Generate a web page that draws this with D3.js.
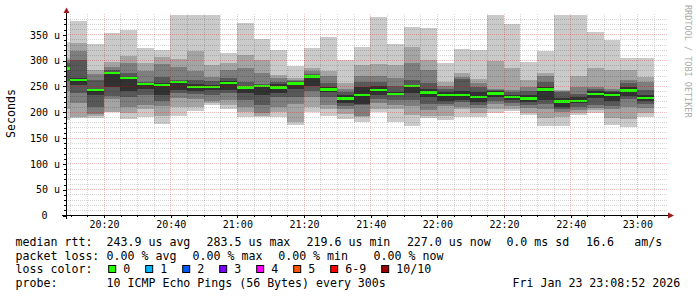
<!DOCTYPE html>
<html>
<head>
<meta charset="utf-8">
<script src="https://cdn.jsdelivr.net/npm/d3@7"></script>
<style>
  body { margin: 0; background: #fff; }
  text { font-family: "DejaVu Sans Mono", monospace; white-space: pre; }
</style>
</head>
<body>
<div id="chart"></div>
<script>
const ancho = 697;
const alto = 297;
const plot = { izq: 66.4, der: 666.4, sup: 15, inf: 215 };

// ---- datos ----
const dia = "2026-01-23 ";
const inicioGrafico = "20:08:52";
const finGrafico = "23:08:52";
const pasoMin = 5;

// inicio de cada intervalo de 5 min
const slots = ["20:05", "20:10", "20:15", "20:20", "20:25", "20:30", "20:35", "20:40", "20:45",
  "20:50", "20:55", "21:00", "21:05", "21:10", "21:15", "21:20", "21:25", "21:30", "21:35",
  "21:40", "21:45", "21:50", "21:55", "22:00", "22:05", "22:10", "22:15", "22:20", "22:25",
  "22:30", "22:35", "22:40", "22:45", "22:50", "22:55", "23:00"];

// 10 pings ordenados por intervalo (us)
const ping1 = [184, 188, 187, 199, 186, 190, 176, 192, 201, 213, 205, 189, 189, 189, 174, 200, 192, 185, 181, 200, 181, 173, 187, 184, 190, 189, 198, 201, 193, 172, 172, 193, 198, 174, 170, 190];
const ping2 = [205, 190, 192, 200, 197, 205, 192, 210, 210, 216, 213, 200, 191, 200, 180, 209, 205, 196, 190, 205, 205, 194, 192, 192, 205, 198, 205, 206, 198, 187, 190, 197, 203, 187, 185, 198];
const ping3 = [240, 217, 195, 224, 209, 213, 211, 226, 224, 221, 223, 210, 198, 210, 215, 229, 213, 205, 192, 217, 213, 212, 204, 212, 210, 208, 215, 212, 208, 205, 200, 203, 208, 205, 210, 208];
const ping4 = [260, 236, 210, 230, 228, 232, 221, 237, 234, 232, 236, 223, 213, 228, 228, 240, 228, 211, 213, 225, 222, 223, 215, 215, 218, 214, 220, 217, 213, 215, 206, 210, 213, 212, 225, 215];
const ping5 = [280, 252, 232, 247, 241, 245, 232, 243, 240, 242, 242, 236, 232, 237, 245, 249, 238, 216, 215, 232, 232, 236, 228, 220, 223, 219, 228, 223, 218, 222, 210, 216, 227, 221, 230, 220];
const ping6 = [287, 265, 244, 277, 268, 256, 255, 260, 254, 251, 260, 250, 252, 254, 257, 271, 247, 232, 247, 250, 238, 252, 244, 238, 240, 238, 240, 232, 232, 247, 226, 228, 240, 238, 248, 232];
const ping7 = [295, 300, 261, 281, 275, 258, 268, 262, 262, 260, 266, 258, 254, 258, 259, 273, 255, 238, 258, 258, 250, 262, 255, 244, 263, 248, 242, 238, 240, 258, 238, 235, 244, 241, 255, 242];
const ping8 = [300, 318, 273, 287, 294, 278, 292, 287, 279, 268, 280, 285, 275, 265, 262, 278, 270, 245, 269, 269, 265, 294, 280, 250, 268, 255, 244, 242, 248, 270, 240, 247, 247, 244, 262, 258];
const ping9 = [305, 333, 281, 297, 308, 294, 307, 303, 318, 290, 294, 310, 300, 271, 265, 284, 279, 256, 290, 292, 290, 326, 300, 258, 276, 263, 299, 284, 262, 275, 242, 269, 284, 280, 280, 268];
const ping10 = [335, 376, 331, 353, 358, 324, 320, 395, 395, 395, 314, 372, 340, 320, 289, 323, 344, 300, 326, 384, 332, 365, 362, 294, 321, 320, 395, 370, 297, 318, 395, 395, 354, 339, 305, 304];
const mediana = [283.5, 262, 242, 274.5, 265, 254, 252, 258, 248.5, 248.5, 256, 247, 250, 247, 255, 268, 243, 226, 232, 242, 234, 250, 237, 232, 232, 229, 235.6, 228, 226, 243, 219.5, 221, 234, 232, 241, 227];

const yTickValues = [0, 50, 100, 150, 200, 250, 300, 350];
const yTickLabels = ["0", "50 u", "100 u", "150 u", "200 u", "250 u", "300 u", "350 u"];
const yMax = 387.4;

const rttStats = ["243.9 us avg", "283.5 us max", "219.6 us min", "227.0 us now", "0.0 ms sd", "16.6", "am/s"];
const lossStats = ["0.00 % avg", "0.00 % max", "0.00 % min", "0.00 % now"];
const lossLabels = ["0", "1", "2", "3", "4", "5", "6-9", "10/10"];
const lossColors = ["#26ff00", "#00b8ff", "#0059ff", "#7e00ff", "#ff00ff", "#ff5500", "#ff0000", "#a10000"];
const probeText = "10 ICMP Echo Pings (56 Bytes) every 300s";
const fechaText = "Fri Jan 23 23:08:52 2026";

// ------------------------------------------------
const parseT = d3.timeParse("%Y-%m-%d %H:%M:%S");
const tSlot = (s) => parseT(dia + s + ":00");
const inicio = parseT(dia + inicioGrafico);
const fin = parseT(dia + finGrafico);

const svg = d3.select("#chart").append("svg")
  .attr("width", ancho).attr("height", alto);
svg.append("rect").attr("width", ancho).attr("height", alto).attr("fill", "#fff");

const x = d3.scaleTime().domain([inicio, fin]).range([plot.izq, plot.der]);
const y = d3.scaleLinear().domain([0, yMax]).range([plot.inf, plot.sup]);

svg.append("clipPath").attr("id", "recorte").append("rect")
  .attr("x", plot.izq).attr("y", plot.sup)
  .attr("width", plot.der - plot.izq).attr("height", plot.inf - plot.sup);

const grupoHumo = svg.append("g").attr("clip-path", "url(#recorte)")
  .attr("shape-rendering", "crispEdges");

// humo: bandas anidadas entre ping k y ping 11-k
const pings = [ping1, ping2, ping3, ping4, ping5, ping6, ping7, ping8, ping9, ping10];
const grises = ["#cacaca", "#a4a4a4", "#7e7e7e", "#585858", "#323232"];
const x0 = (i) => x(tSlot(slots[i]));
const x1 = (i) => x(d3.timeMinute.offset(tSlot(slots[i]), pasoMin));

grises.forEach((color, k) => {
  grupoHumo.append("g").selectAll("rect").data(slots).enter().append("rect")
    .attr("x", (d, i) => x0(i))
    .attr("width", (d, i) => x1(i) - x0(i))
    .attr("y", (d, i) => y(pings[9 - k][i]))
    .attr("height", (d, i) => y(pings[k][i]) - y(pings[9 - k][i]))
    .attr("fill", color);
});

// mediana (color de perdida 0)
grupoHumo.append("g").selectAll("rect").data(mediana).enter().append("rect")
  .attr("x", (d, i) => x0(i))
  .attr("width", (d, i) => x1(i) - x0(i))
  .attr("y", (d) => y(d) - 1.2)
  .attr("height", 2.4)
  .attr("fill", lossColors[0]);

// rejilla
const grupoGrid = svg.append("g").attr("shape-rendering", "crispEdges")
  .attr("stroke-dasharray", "1,1");
const minorT = d3.timeMinute.every(5).range(inicio, fin).filter((d) => d.getMinutes() % 20 !== 0);
const majorT = d3.timeMinute.every(20).range(inicio, fin);
const minorY = d3.range(10, yMax, 10).filter((v) => v % 50 !== 0);
const majorY = d3.range(50, yMax, 50);

const px = (v) => Math.round(v) + 0.5;
const colMin = "rgba(0,0,0,0.16)";
const colMaj = "rgba(210,0,0,0.26)";

grupoGrid.selectAll(".vmin").data(minorT).enter().append("line")
  .attr("x1", (d) => px(x(d))).attr("x2", (d) => px(x(d)))
  .attr("y1", plot.inf).attr("y2", plot.sup - 2)
  .attr("stroke", colMin);
grupoGrid.selectAll(".hmin").data(minorY).enter().append("line")
  .attr("x1", plot.izq).attr("x2", plot.der + 2)
  .attr("y1", (d) => px(y(d))).attr("y2", (d) => px(y(d)))
  .attr("stroke", colMin);
grupoGrid.selectAll(".vmaj").data(majorT).enter().append("line")
  .attr("x1", (d) => px(x(d))).attr("x2", (d) => px(x(d)))
  .attr("y1", plot.inf).attr("y2", plot.sup - 2)
  .attr("stroke", colMaj);
grupoGrid.selectAll(".hmaj").data(majorY).enter().append("line")
  .attr("x1", plot.izq).attr("x2", plot.der + 2)
  .attr("y1", (d) => px(y(d))).attr("y2", (d) => px(y(d)))
  .attr("stroke", colMaj);

// ejes
const ejeX = d3.axisBottom(x).tickValues(majorT)
  .tickFormat(d3.timeFormat("%H:%M")).tickSize(3).tickPadding(3.2);
const ejeXmin = d3.axisBottom(x).tickValues(minorT).tickFormat("").tickSize(2);
const ejeY = d3.axisLeft(y).tickValues(yTickValues)
  .tickFormat((d, i) => yTickLabels[i]).tickSize(3).tickPadding(3);
const ejeYmin = d3.axisLeft(y).tickValues(minorY).tickFormat("").tickSize(2);

const estiloEje = (g) => {
  g.select(".domain").remove();
  g.selectAll(".tick line").attr("stroke", "#000").attr("shape-rendering", "crispEdges");
  g.selectAll(".tick text").attr("font-family", "DejaVu Sans Mono").attr("font-size", 10).attr("fill", "#000");
};

svg.append("g").attr("transform", "translate(0.5," + plot.inf + ")").call(ejeXmin).call(estiloEje);
svg.append("g").attr("transform", "translate(0.5," + plot.inf + ")").call(ejeX).call(estiloEje);
svg.append("g").attr("transform", "translate(66," + 0.5 + ")").call(ejeYmin).call(estiloEje);
const grupoY = svg.append("g").attr("transform", "translate(66," + 0.5 + ")").call(ejeY).call(estiloEje);
grupoY.selectAll(".tick text").attr("dx", (d, i) => yTickLabels[i].indexOf(" ") < 0 ? "-12.5" : "0");

// lineas de eje con flechas
svg.append("line").attr("x1", 62).attr("x2", 669).attr("y1", 215.5).attr("y2", 215.5)
  .attr("stroke", "#000");
svg.append("line").attr("x1", 66.5).attr("x2", 66.5).attr("y1", 219).attr("y2", 12)
  .attr("stroke", "#000");
svg.append("path").attr("d", "M668,212.5L674,215.5L668,218.5Z").attr("fill", "#9e1a1a");
svg.append("path").attr("d", "M63.5,13L66.5,7.5L69.5,13Z").attr("fill", "#9e1a1a");

// titulo eje y
svg.append("text").attr("transform", "translate(14.5,113.5) rotate(-90)")
  .attr("text-anchor", "middle").attr("font-size", 11.6).text("Seconds");

// marca de agua
svg.append("text").attr("transform", "translate(685,5) rotate(90)")
  .attr("font-size", 8.5).attr("fill", "#aaaaaa").text("RRDTOOL / TOBI OETIKER");

// leyenda
const fs = 11.6;
const lineas = [245.8, 259.5, 273.2, 286.9];
const leyenda = svg.append("g").attr("font-size", fs).attr("fill", "#000");

leyenda.append("text").attr("x", 15.6).attr("y", lineas[0]).text("median rtt:");
const xRtt = [106.6, 206.6, 306.6, 406.9, 506.4, 586.1, 634.3];
rttStats.forEach((s, i) => {
  leyenda.append("text").attr("x", xRtt[i]).attr("y", lineas[0]).text(s);
});

leyenda.append("text").attr("x", 15.6).attr("y", lineas[1]).text("packet loss:");
const xLoss = [106.6, 192.6, 278.2, 373.6];
lossStats.forEach((s, i) => {
  leyenda.append("text").attr("x", xLoss[i]).attr("y", lineas[1]).text(s);
});

leyenda.append("text").attr("x", 15.6).attr("y", lineas[2]).text("loss color:");
let xCaja = 108.7;
lossLabels.forEach((lab, i) => {
  leyenda.append("rect").attr("x", xCaja).attr("y", 265.5).attr("width", 7).attr("height", 7)
    .attr("fill", lossColors[i]).attr("stroke", "#000").attr("stroke-width", 1);
  leyenda.append("text").attr("x", xCaja + 14.6).attr("y", lineas[2]).text(lab);
  xCaja += 30 + 7 * lab.length;
});

leyenda.append("text").attr("x", 15.6).attr("y", lineas[3]).text("probe:");
leyenda.append("text").attr("x", 106.6).attr("y", lineas[3]).text(probeText);
leyenda.append("text").attr("x", 512.6).attr("y", lineas[3]).text(fechaText);
</script>
</body>
</html>
